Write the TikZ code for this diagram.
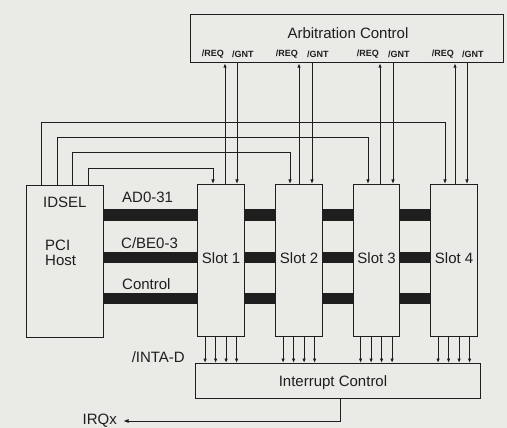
\documentclass[tikz,border=0pt]{standalone}
\usepackage{fontspec}
\setmainfont{Liberation Sans}
\usetikzlibrary{arrows.meta,calc}
\definecolor{paper}{HTML}{EAEAE7}
\definecolor{ink}{HTML}{1E1E1E}
\begin{document}
\begin{tikzpicture}[x=1pt,y=-1pt,
  blk/.style={draw=ink,line width=1.2pt,fill=paper,inner sep=0pt,anchor=north west},
  sig/.style={draw=ink,line width=1pt},
  arr/.style={sig,-{Latex[length=4.5pt,width=3.5pt]}},
  bus/.style={draw=ink,line width=11pt},
  lbl/.style={font=\fontsize{15}{15}\selectfont,text=ink,inner sep=0pt},
  small/.style={font=\bfseries\fontsize{9}{10}\selectfont,text=ink,inner sep=0pt}]
\fill[paper] (0,0) rectangle (507,428);
\useasboundingbox (0,0) rectangle (507,428);
% buses
\coordinate (b1) at (0,215);
\coordinate (b2) at (0,257);
\coordinate (b3) at (0,298);
\coordinate (hostE) at (103,0);
\coordinate (s4W) at (430,0);
\draw[bus] (hostE |- b1) -- (s4W |- b1);
\draw[bus] (hostE |- b2) -- (s4W |- b2);
\draw[bus] (hostE |- b3) -- (s4W |- b3);
% blocks
\node[blk,minimum width=77pt,minimum height=152pt] (host) at (26,185) {};
\node[blk,minimum width=47pt,minimum height=152pt] (s1) at (197,184) {};
\node[blk,minimum width=47pt,minimum height=152pt] (s2) at (275,184) {};
\node[blk,minimum width=46pt,minimum height=152pt] (s3) at (353,184) {};
\node[blk,minimum width=47pt,minimum height=152pt] (s4) at (430,184) {};
\node[blk,minimum width=313pt,minimum height=48pt] (arb) at (190,14) {};
\node[blk,minimum width=285pt,minimum height=35pt] (intr) at (195,363) {};
% texts
\node[lbl] (arbt) at (348,33) {Arbitration Control};
\node[lbl] (intrt) at (333,383) {Interrupt Control};
\foreach \i in {1,2,3,4} {\node[lbl] (st\i) at ($(s\i.north)!0.5!(s\i.south)+(0,-2)$) {Slot \i};}
\node[lbl,anchor=west] (idsel) at (43,202) {IDSEL};
\node[lbl,anchor=west,align=left] (pcih) at (45,252.5) {PCI\\Host};
\node[lbl,anchor=west] (ad) at (122,197) {AD0-31};
\node[lbl,anchor=west] (cbe) at (121,243) {C/BE0-3};
\node[lbl,anchor=west] (ctl) at (122,284) {Control};
\node[lbl,anchor=east] (inta) at (185,357) {/INTA-D};
\node[lbl,anchor=east] (irq) at (117,421) {IRQx};
% REQ / GNT
\foreach \r/\g [count=\k] in {225/237,299/312,380/393,455/467} {
  \coordinate (r\k) at (\r,0);
  \coordinate (g\k) at (\g,0);
  \draw[arr] (s\k.north -| r\k) -- (arb.south -| r\k);
  \draw[arr] (arb.south -| g\k) -- (s\k.north -| g\k);
  \node[small,anchor=east] (rq\k) at (\r-1,54) {/REQ};
  \node[small,anchor=west] (gt\k) at (\g-5,54) {/GNT};
}
% IDSEL lines
\foreach \hx/\hy/\sx/\k in {41/123/445/4,57/138/368/3,72/153/290/2,88/169/213/1} {
  \coordinate (hx\k) at (\hx,\hy);
  \coordinate (sx\k) at (\sx,\hy);
  \draw[arr] (host.north -| hx\k) -- (hx\k) -- (sx\k) -- (s\k.north -| sx\k);
}
% interrupt lines
\foreach \k in {1,2,3,4} {
  \foreach \o in {-16,-5.5,5,15.5} {
    \draw[arr] ([xshift=\o pt]s\k.south) -- ([xshift=\o pt]s\k.south |- intr.north);
  }
}
% IRQ
\coordinate (iq) at (340,421);
\coordinate (iqend) at ($(irq.east)+(6,0)$);
\draw[arr,-{Latex[length=5.5pt,width=4pt]}] (intr.south -| iq) -- (iq) -- (iqend);
\end{tikzpicture}
\end{document}
